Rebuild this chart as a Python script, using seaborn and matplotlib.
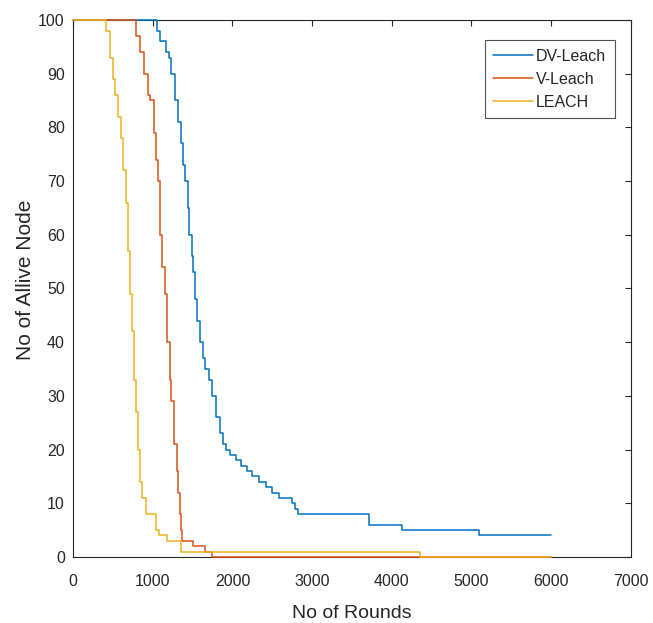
import pandas as pd
import seaborn as sns
import matplotlib
matplotlib.use("Agg")
import matplotlib.pyplot as plt

# Nodos vivos por ronda (lectura aproximada de la figura)
dv_rounds = [0, 1050, 1090, 1160, 1200, 1233, 1275, 1315, 1350, 1380, 1410, 1440, 1460, 1490,
             1510, 1525, 1560, 1590, 1630, 1660, 1700, 1740, 1790, 1840, 1880, 1920, 1970, 2040,
             2110, 2180, 2250, 2330, 2420, 2500, 2590, 2750, 2790, 2820, 3710, 4130, 5090, 6000]
dv_alive = [100, 98, 96, 94, 93, 90, 85, 81, 77, 73, 70, 65, 60, 56,
            53, 48, 44, 40, 37, 35, 33, 30, 26, 23, 21, 20, 19, 18,
            17, 16, 15, 14, 13, 12, 11, 10, 9, 8, 6, 5, 4, 4]

v_rounds = [0, 790, 840, 890, 940, 970, 1010, 1040, 1060, 1090, 1120, 1150, 1180, 1210,
            1230, 1260, 1300, 1320, 1340, 1355, 1370, 1500, 1650, 1740, 6000]
v_alive = [100, 97, 94, 90, 86, 85, 79, 74, 70, 60, 54, 49, 40, 33,
           29, 21, 16, 12, 8, 5, 3, 2, 1, 0, 0]

leach_rounds = [0, 410, 460, 500, 525, 560, 600, 630, 660, 690, 720, 740, 770, 790, 810,
                840, 870, 920, 1040, 1080, 1180, 1360, 4350, 6000]
leach_alive = [100, 98, 93, 89, 86, 82, 78, 72, 66, 57, 49, 42, 33, 27, 20,
               14, 11, 8, 5, 4, 3, 1, 0, 0]

protocolos = ['DV-Leach', 'V-Leach', 'LEACH']
colores = ['#0072BD', '#D95319', '#EDB120']

df = pd.concat([
    pd.DataFrame({'ronda': dv_rounds, 'vivos': dv_alive, 'protocolo': 'DV-Leach'}),
    pd.DataFrame({'ronda': v_rounds, 'vivos': v_alive, 'protocolo': 'V-Leach'}),
    pd.DataFrame({'ronda': leach_rounds, 'vivos': leach_alive, 'protocolo': 'LEACH'}),
])

sns.set_style('white')
plt.rcParams['font.family'] = ['Liberation Sans', 'DejaVu Sans']

fig = plt.figure(figsize=(6.53, 6.23), dpi=100)
ax = fig.add_axes([0.112, 0.106, 0.854, 0.862])
sns.lineplot(data=df, x='ronda', y='vivos', hue='protocolo', hue_order=protocolos,
             palette=colores, estimator=None, sort=False, drawstyle='steps-post',
             linewidth=1.1, clip_on=False, zorder=3, ax=ax)

ax.set_xlim(0, 7000)
ax.set_ylim(0, 100)
ax.set_xticks(range(0, 7001, 1000))
ax.set_yticks(range(0, 101, 10))
ax.tick_params(direction='in', top=True, right=True, length=4, width=0.8,
               labelsize=11.5, colors='#262626')
ax.tick_params(axis='x', pad=12)
ax.tick_params(axis='y', pad=6)
for s in ax.spines.values():
    s.set_color('#262626')
    s.set_linewidth(0.8)
ax.set_xlabel('No of Rounds', fontsize=14)
ax.set_ylabel('No of Allive Node', fontsize=15)
ax.xaxis.set_label_coords(0.5, -0.089)
ax.yaxis.set_label_coords(-0.068, 0.516)

leg = ax.legend(loc='upper right', bbox_to_anchor=(0.971, 0.963), borderaxespad=0,
                fontsize=11.5, frameon=True, fancybox=False, edgecolor='#262626',
                handlelength=2.5, handletextpad=0.15, borderpad=0.55, labelspacing=0.5)
leg.get_frame().set_linewidth(0.8)

fig.savefig('out.png', dpi=100)
